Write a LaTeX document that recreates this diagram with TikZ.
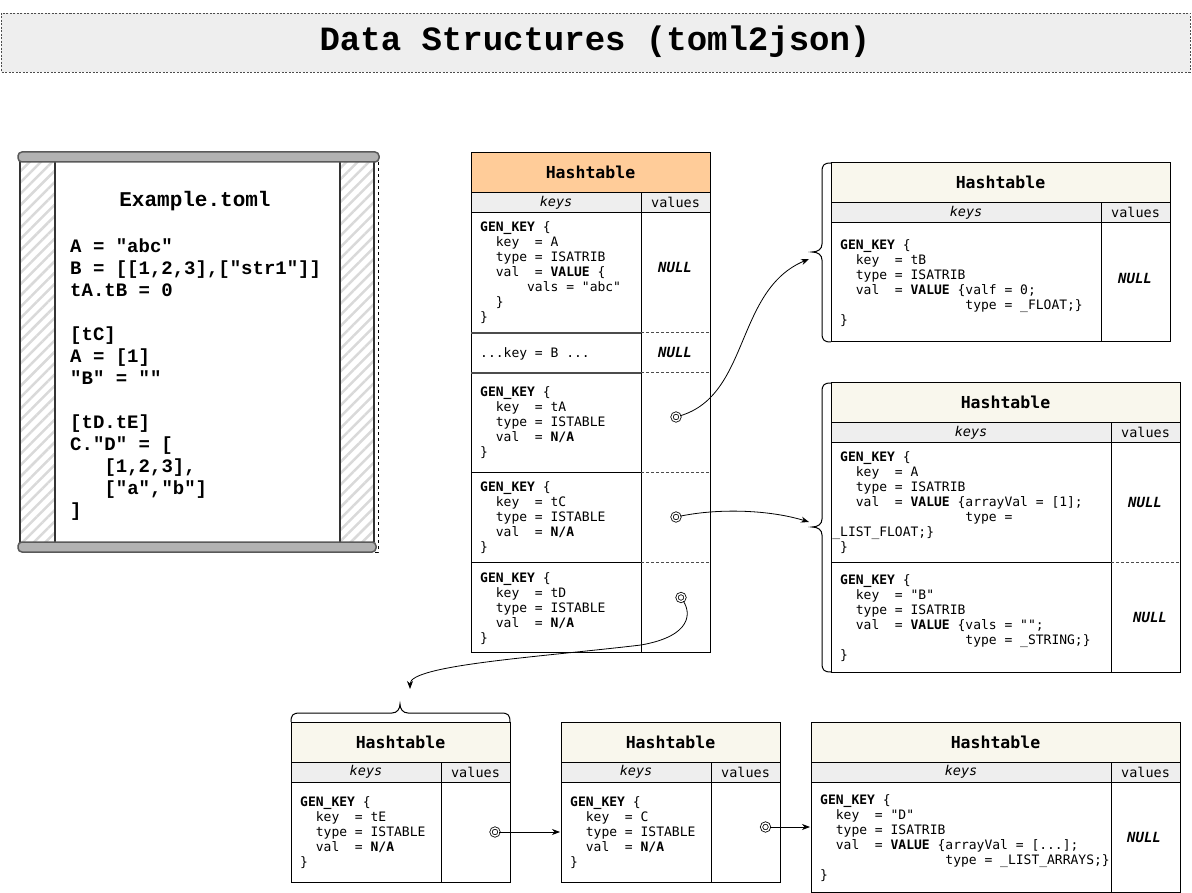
\documentclass[tikz,border=0pt]{standalone}
\usepackage{fontspec}
\newfontfamily\codefont{DejaVu Sans Mono}
\newfontfamily\tomlfont{Liberation Mono}
\usetikzlibrary{arrows.meta,patterns.meta}
\definecolor{keysfill}{HTML}{EEEEEE}
\definecolor{peach}{HTML}{FFCC99}
\definecolor{beige}{HTML}{F9F7ED}
\newcommand\ind[1]{\hspace*{#1\dimexpr0.602em\relax}}
\newcommand\codeblock[1]{\begin{tabular}[t]{@{}l@{}}#1\end{tabular}}
\tikzset{
 frame/.style={draw=black, line width=1pt},
 septhick/.style={draw=black!70, line width=1.6pt},
 sepdash/.style={draw=black!70, line width=1pt, dash pattern=on 3pt off 2pt},
 code/.style={font=\codefont\fontsize{13}{15}\selectfont, anchor=base west, inner sep=0pt},
 nullv/.style={font=\codefont\bfseries\itshape\fontsize{14}{16}\selectfont, inner sep=0pt},
 hdrtext/.style={font=\codefont\bfseries\fontsize{16.5}{20}\selectfont, inner sep=0pt},
 keystext/.style={font=\codefont\itshape\fontsize{13.5}{16}\selectfont, inner sep=0pt},
 valtext/.style={font=\codefont\fontsize{13.5}{16}\selectfont, inner sep=0pt},
 dcirc/.style={circle, draw=black, inner sep=0pt, minimum size=8pt, line width=0.8pt, double=white, double distance=1.4pt},
 conn/.style={draw=black, line width=0.8pt, -{Stealth[length=8pt,width=6pt,inset=2.5pt]}},
 brace/.style={draw=black, line width=1pt},
 hatch/.style={pattern={Lines[angle=45,distance=8pt,line width=2.5pt]}, pattern color=black!15},
 bar/.style={rounded corners=4pt, fill=black!30, draw=black!65, line width=1.5pt},
}
% #1 name, #2 left, #3 right, #4 top, #5 divider, #6 bottom, #7 header fill
\newcommand\htable[7]{%
 \fill[#7] (#2,#4) rectangle (#3,{#4+40});
 \fill[keysfill] (#2,{#4+40}) rectangle (#3,{#4+60});
 \draw[frame] (#2,#4) rectangle (#3,#6);
 \draw[frame] (#2,{#4+40}) -- (#3,{#4+40});
 \draw[frame] (#2,{#4+60}) -- (#3,{#4+60});
 \draw[frame] (#5,{#4+40}) -- (#5,#6);
 \node[hdrtext] (#1-h) at ({(#2+#3)/2},{#4+20}) {Hashtable};
 \node[keystext] (#1-k) at ({(#2+#5)/2},{#4+50}) {keys};
 \node[valtext] (#1-v) at ({(#5+#3)/2},{#4+50}) {values};
}
\begin{document}
\begin{tikzpicture}[x=1pt,y=-1pt]
\useasboundingbox (0,0) rectangle (1192,893);

% title
\draw[draw=black!70, fill=keysfill, line width=0.8pt, dash pattern=on 2pt off 1.5pt] (1,13) rectangle (1190,72);
\node[font=\tomlfont\bfseries\fontsize{34}{40}\selectfont] (title) at (595,42) {Data Structures (toml2json)};

% scroll panel
\fill[hatch] (20,162) rectangle (55,542);
\fill[hatch] (340,162) rectangle (374,542);
\draw[line width=2.2pt, black!80] (20,160) -- (20,544);
\draw[line width=1.8pt, black!80] (55,162) -- (55,542);
\draw[line width=1.5pt, black!80] (340,162) -- (340,542);
\draw[line width=1.2pt, black!80] (374,162) -- (374,542);
\draw[line width=0.6pt, dashed, black] (378,162) -- (378,552) -- (372,552);
\draw[bar] (18,152) rectangle (379,162);
\draw[bar] (18,542) rectangle (376,552);
\node[font=\tomlfont\bfseries\fontsize{21}{24}\selectfont] (tomltitle) at (195,201.5) {Example.toml};
\node[font=\tomlfont\bfseries\fontsize{19}{22}\selectfont, anchor=base west, inner sep=0pt] (tomlcode) at (70,253) {\codeblock{%
A = "abc"\\
B = [[1,2,3],["str1"]]\\
tA.tB = 0\\
\\
{}[tC]\\
A = [1]\\
"B" = ""\\
\\
{}[tD.tE]\\
C."D" = [\\
\ind{3}[1,2,3],\\
\ind{3}["a","b"]\\
{}]}};

% main hashtable
\htable{T0}{471}{710}{152.5}{641}{652.5}{peach}
\draw[septhick] (471,333) -- (641,333);
\draw[sepdash] (641,333) -- (710,333);
\draw[septhick] (471,373) -- (641,373);
\draw[sepdash] (641,373) -- (710,373);
\draw[frame] (471,472) -- (641,472);
\draw[sepdash] (641,472) -- (710,472);
\draw[frame] (471,562) -- (641,562);
\draw[sepdash] (641,562) -- (710,562);

\node[code] (r1) at (480,231.5) {\codeblock{%
\textbf{GEN\_KEY}~\{\\
\ind{2}key~~=~A\\
\ind{2}type~=~ISATRIB\\
\ind{2}val~~=~\textbf{VALUE}~\{\\
\ind{6}vals~=~"abc"\\
\ind{2}\}\\
\}}};
\node[nullv] (n1) at (675,267) {NULL};
\node[code] (r2) at (480,357.5) {...key~=~B~...};
\node[nullv] (n2) at (675,352) {NULL};
\node[code] (r3) at (480,396.5) {\codeblock{%
\textbf{GEN\_KEY}~\{\\
\ind{2}key~~=~tA\\
\ind{2}type~=~ISTABLE\\
\ind{2}val~~=~\textbf{N/A}\\
\}}};
\node[code] (r4) at (480,491.5) {\codeblock{%
\textbf{GEN\_KEY}~\{\\
\ind{2}key~~=~tC\\
\ind{2}type~=~ISTABLE\\
\ind{2}val~~=~\textbf{N/A}\\
\}}};
\node[code] (r5) at (480,582.5) {\codeblock{%
\textbf{GEN\_KEY}~\{\\
\ind{2}key~~=~tD\\
\ind{2}type~=~ISTABLE\\
\ind{2}val~~=~\textbf{N/A}\\
\}}};
\node[dcirc] (cA) at (676,417) {};
\node[dcirc] (cC) at (676,517) {};
\node[dcirc] (cD) at (681,597.5) {};

% top-right hashtable (tB)
\htable{T1}{831}{1170}{162.5}{1101}{342}{beige}
\node[code] (tb1) at (840,250) {\codeblock{%
\textbf{GEN\_KEY}~\{\\
\ind{2}key~~=~tB\\
\ind{2}type~=~ISATRIB\\
\ind{2}val~~=~\textbf{VALUE}~\{valf~=~0;\\
\ind{16}type~=~\_FLOAT;\}\\
\}}};
\node[nullv] (tbn) at (1135,278) {NULL};
\draw[brace] (831,163) .. controls (824,163) and (822,165) .. (822,172) -- (822,244)
  .. controls (822,249) and (818,252) .. (812,252)
  .. controls (818,252) and (822,255) .. (822,260) -- (822,333)
  .. controls (822,340) and (824,342) .. (831,342);
\coordinate (tipB) at (809,259);

% middle-right hashtable (tC)
\htable{T2}{831}{1180}{382.5}{1111}{672}{beige}
\draw[frame] (831,562) -- (1111,562);
\draw[sepdash] (1111,562) -- (1180,562);
\node[code] (tc1) at (840,461.5) {\codeblock{%
\textbf{GEN\_KEY}~\{\\
\ind{2}key~~=~A\\
\ind{2}type~=~ISATRIB\\
\ind{2}val~~=~\textbf{VALUE}~\{arrayVal~=~[1];\\
\ind{16}type~=\\
\ind{-1}\_LIST\_FLOAT;\}\\
\}}};
\node[nullv] (tcn1) at (1145,502) {NULL};
\node[code] (tc2) at (840,584) {\codeblock{%
\textbf{GEN\_KEY}~\{\\
\ind{2}key~~=~"B"\\
\ind{2}type~=~ISATRIB\\
\ind{2}val~~=~\textbf{VALUE}~\{vals~=~"";\\
\ind{16}type~=~\_STRING;\}\\
\}}};
\node[nullv] (tcn2) at (1150,617) {NULL};
\draw[brace] (831,383) .. controls (824,383) and (822,385) .. (822,392) -- (822,519)
  .. controls (822,524) and (818,527) .. (812,527)
  .. controls (818,527) and (822,530) .. (822,535) -- (822,663)
  .. controls (822,670) and (824,672) .. (831,672);
\coordinate (tipC) at (809,522);

% bottom-left hashtable (tD -> tE)
\draw[brace] (291,722) .. controls (291,715) and (293,713) .. (300,713) -- (392,713)
  .. controls (397,713) and (400,709) .. (400,704)
  .. controls (400,709) and (403,713) .. (408,713) -- (501,713)
  .. controls (508,713) and (510,715) .. (510,722);
\coordinate (tipD) at (410,689);
\htable{T3}{291}{510}{722}{441}{882}{beige}
\node[code] (te1) at (300,806.5) {\codeblock{%
\textbf{GEN\_KEY}~\{\\
\ind{2}key~~=~tE\\
\ind{2}type~=~ISTABLE\\
\ind{2}val~~=~\textbf{N/A}\\
\}}};
\node[dcirc] (cE) at (495,832) {};
\coordinate (tipE) at (560,832);

% bottom-middle hashtable (C)
\htable{T4}{561}{780}{722}{711}{882}{beige}
\node[code] (tf1) at (570,806.5) {\codeblock{%
\textbf{GEN\_KEY}~\{\\
\ind{2}key~~=~C\\
\ind{2}type~=~ISTABLE\\
\ind{2}val~~=~\textbf{N/A}\\
\}}};
\node[dcirc] (cF) at (765.5,827) {};
\coordinate (tipF) at (810,827);

% bottom-right hashtable ("D")
\htable{T5}{811}{1180}{722}{1111}{892}{beige}
\node[code] (tg1) at (820,804.5) {\codeblock{%
\textbf{GEN\_KEY}~\{\\
\ind{2}key~~=~"D"\\
\ind{2}type~=~ISATRIB\\
\ind{2}val~~=~\textbf{VALUE}~\{arrayVal~=~[...];\\
\ind{16}type~=~\_LIST\_ARRAYS;\}\\
\}}};
\node[nullv] (tgn) at (1144,837) {NULL};

% connectors
\draw[conn] (cA) .. controls (750,395) and (735,290) .. (tipB);
\draw[conn] (cC) .. controls (720,508) and (770,510) .. (tipC);
\draw[conn] (cD) .. controls (691,613) and (692,636) .. (641,645)
  .. controls (540,657) and (410,665) .. (tipD);
\draw[conn] (cE) -- (tipE);
\draw[conn] (cF) -- (tipF);
\end{tikzpicture}
\end{document}
